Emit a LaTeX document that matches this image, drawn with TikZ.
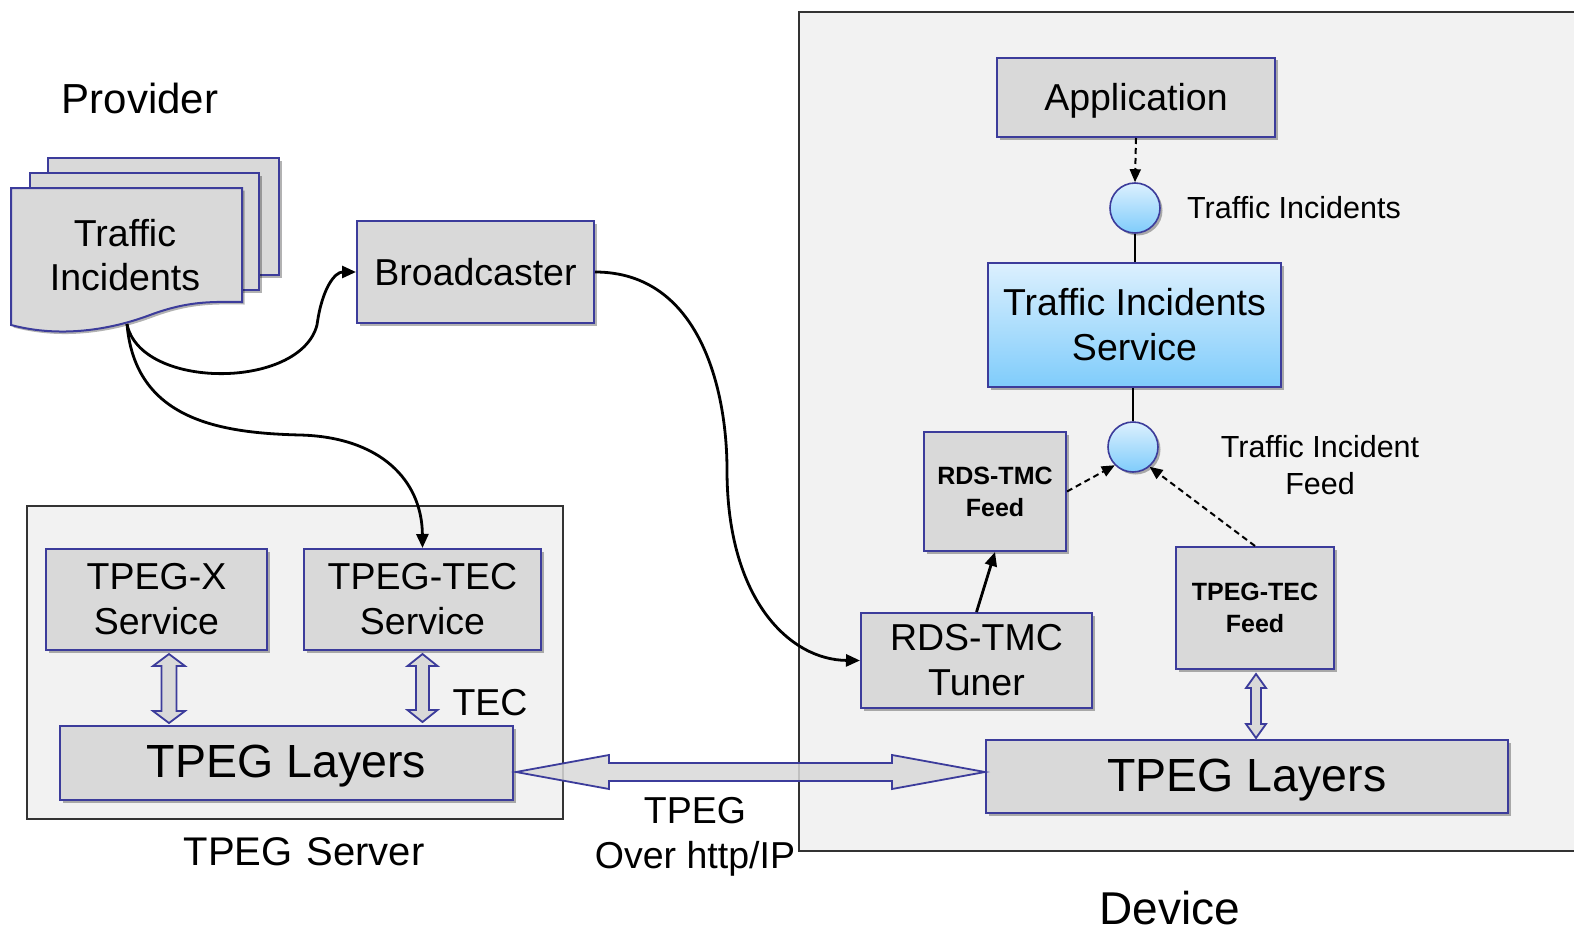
\documentclass[tikz,border=0pt]{standalone}
\usepackage{fontspec}
\setmainfont{Liberation Sans}
\usetikzlibrary{arrows.meta,shadows,calc}
\definecolor{bx}{HTML}{D9D9D9}
\definecolor{bd}{RGB}{60,60,155}
\definecolor{bgc}{HTML}{F2F2F2}
\definecolor{lba}{HTML}{DCF0FE}
\definecolor{lbb}{HTML}{7FCCFB}
\newcommand{\fsz}[2]{\fontsize{#1}{#2}\selectfont}
\newcommand{\VArr}[5]{\draw[hollow] let \p1=#1, \p2=#2 in (\x1,\y1) -- (\x1+#4,\y1-#5) -- (\x1+#3,\y1-#5) -- (\x1+#3,\y2+#5) -- (\x1+#4,\y2+#5) -- (\x1,\y2) -- (\x1-#4,\y2+#5) -- (\x1-#3,\y2+#5) -- (\x1-#3,\y1-#5) -- (\x1-#4,\y1-#5) -- cycle;}
\begin{document}
\begin{tikzpicture}[x=1pt,y=-1pt,
 shad/.style={drop shadow={shadow xshift=2.5pt,shadow yshift=-2.5pt,opacity=0.3,fill=black}},
 box/.style={draw=bd,line width=2pt,fill=bx,shad,inner sep=0pt,align=center,font=\fsz{37.5}{45}},
 smallbox/.style={box,font=\fsz{25}{32}\bfseries},
 layer/.style={box,font=\fsz{46.5}{52},text height=33pt,text depth=4pt},
 port/.style={circle,draw=bd,line width=1.6pt,top color=lba,bottom color=lbb,minimum size=50pt,inner sep=0pt,shad},
 region/.style={fill=bgc,draw=black!80,line width=1.5pt},
 hollow/.style={draw=bd,line width=1.8pt,fill=bx,line join=miter},
 flow/.style={line width=2.8pt,-{Triangle[length=14pt,width=12pt]}},
 dflow/.style={line width=2pt,dash pattern=on 6pt off 4pt,-{Triangle[length=13pt,width=11pt]}},
 lbl/.style={inner sep=0pt,align=center}
]
\useasboundingbox[fill=white] (0,0) rectangle (1574,934);
% regions
\fill[bgc] (799,12) rectangle (1574,851);
\draw[black!80,line width=1.5pt] (1574,12) -- (799,12) -- (799,851) -- (1574,851);
\draw[region] (27,506) rectangle (563,819);

% provider document stack
\draw[draw=bd,line width=2pt,fill=bx,shad] (48,158) rectangle (279,275);
\draw[draw=bd,line width=2pt,fill=bx,shad] (30,173) rectangle (259,290);
\draw[draw=bd,line width=2pt,fill=bx,shad] (11,188) -- (242,188) -- (242,302) .. controls (215,302) and (190,300) .. (150,315) .. controls (110,330) and (60,338) .. (11,325) -- cycle;
\node[lbl,font=\fsz{37.5}{44}] (prov) at (125,255) {Traffic\\Incidents};
\coordinate (provb) at (127,324);
\node[lbl,font=\fsz{42}{48},anchor=center] (provlbl) at (140,98) {Provider};

% boxes
\node[box,minimum width=237pt,minimum height=102pt] (broad) at (475.5,272) {Broadcaster};
\node[box,minimum width=221pt,minimum height=101pt] (tpegx) at (156.5,599.5) {TPEG-X\\Service};
\node[box,minimum width=237pt,minimum height=101pt] (tpegtec) at (422.5,599.5) {TPEG-TEC\\Service};
\node[layer,minimum width=453pt,minimum height=74pt] (layL) at (286.5,763) {TPEG Layers};
\node[lbl,font=\fsz{37.5}{44}] (tec) at (490,703) {TEC};
\node[lbl,font=\fsz{40}{44}] (srv) at (304,852) {TPEG\hspace{0.35em}Server};

\node[box,minimum width=278pt,minimum height=79pt,text height=27pt,text depth=1pt] (app) at (1136,97.5) {Application};
\node[port] (c1) at (1135,208) {};
\node[lbl,font=\fsz{30.5}{36},anchor=west] (tilbl) at (1187,208) {Traffic Incidents};
\node[box,minimum width=293pt,minimum height=124pt,shade,top color=lba,bottom color=lbb] (tis) at (1134.5,325) {Traffic Incidents\\Service};
\node[port] (c2) at (1133,447) {};
\node[lbl,font=\fsz{30.5}{37}] (tiflbl) at (1320,465) {Traffic Incident\\Feed};
\node[smallbox,minimum width=142pt,minimum height=119pt] (rdsfeed) at (995,491.5) {RDS-TMC\\Feed};
\node[smallbox,minimum width=158pt,minimum height=122pt] (tecfeed) at (1255,608) {TPEG-TEC\\Feed};
\node[box,minimum width=231pt,minimum height=95pt] (tuner) at (976.5,660.5) {RDS-TMC\\Tuner};
\node[layer,minimum width=522pt,minimum height=73pt] (layR) at (1247,776.5) {TPEG Layers};
\node[lbl,font=\fsz{37.5}{45}] (http) at (695,837) {TPEG\\Over http/IP};
\node[lbl,font=\fsz{46}{50}] (dev) at (1170,908) {Device};

% hollow double arrows
\VArr{($(tpegx.south)+(12.5,3)$)}{($(layL.north)+(0,-2)$)}{7.5pt}{16pt}{12pt}
\VArr{($(tpegtec.south)+(0,3)$)}{($(layL.north)+(0,-3)$)}{6.5pt}{15pt}{12pt}
\VArr{($(tecfeed.south)+(1,4)$)}{($(layR.north)+(0,-1)$)}{5pt}{10pt}{14pt}
\draw[hollow,fill opacity=0.85] let \p1=($(layL.east)+(2,9)$), \p2=(layR.west) in
 (\x1,\y1) -- (\x1+93pt,\y1+17pt) -- (\x1+93pt,\y1+9pt) -- (\x2-93pt,\y1+9pt) -- (\x2-93pt,\y1+17pt) -- (\x2,\y1) -- (\x2-93pt,\y1-17pt) -- (\x2-93pt,\y1-9pt) -- (\x1+93pt,\y1-9pt) -- (\x1+93pt,\y1-17pt) -- cycle;

% connectors
\draw[flow] (provb) .. controls (140,390) and (300,390) .. (317,325) .. controls (322,288) and (335,272) .. (broad.west);
\draw[flow] (provb) .. controls (135,420) and (220,433) .. (300,435) .. controls (380,437) and (422,480) .. (tpegtec.north);
\draw[flow] (broad.east) .. controls (700,272) and (727,390) .. (727,470) .. controls (727,600) and (790,660) .. (tuner.west);
\draw[flow] (tuner.north) -- (rdsfeed.south);
\draw[dflow] (app.south) -- (c1.north);
\draw[line width=1.6pt] (c1.south) -- (c1.south |- tis.north);
\draw[line width=1.6pt] (c2.north |- tis.south) -- (c2.north);
\draw[dflow] (rdsfeed.east) -- (c2.225);
\draw[dflow] (tecfeed.north) -- (c2.-50);
\end{tikzpicture}
\end{document}
